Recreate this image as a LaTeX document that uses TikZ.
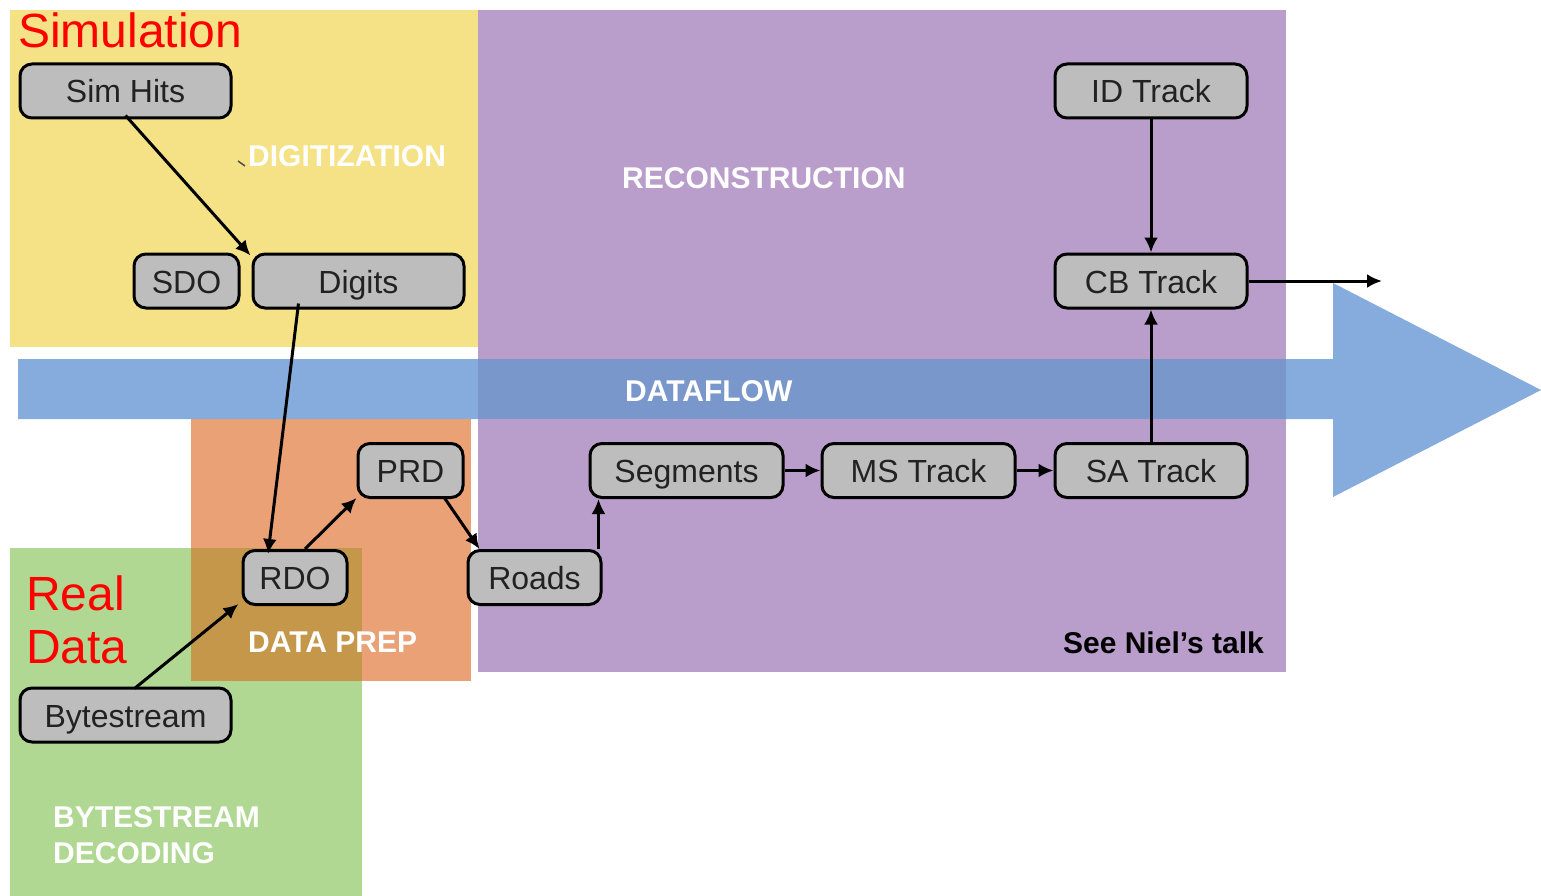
\documentclass[tikz,border=0pt]{standalone}
\usepackage{fontspec}
\setmainfont{Liberation Sans}
\usetikzlibrary{arrows.meta,calc}

\definecolor{simyellow}{HTML}{F5E286}
\definecolor{recopurple}{HTML}{B99DCB}
\definecolor{flowblue}{HTML}{86ABDD}
\definecolor{flowonpurple}{HTML}{7A97CB}
\definecolor{prepblue}{HTML}{EBA176}
\definecolor{bsgreen}{HTML}{B0D893}
\definecolor{prepongreen}{HTML}{C5974B}
\definecolor{boxgray}{HTML}{BDBDBD}
\definecolor{boxtext}{HTML}{222222}

\tikzset{
  stagebox/.style={draw=black, line width=3pt, fill=boxgray, rounded corners=12pt,
    minimum height=54pt, inner sep=0pt, text=boxtext,
    text height=30pt, text depth=6pt,
    font=\fontsize{32}{36}\selectfont},
  flow/.style={draw=black, line width=3pt, -{Latex[length=15pt,width=14pt]}},
  stagelabel/.style={text=white, font=\bfseries\fontsize{30}{36}\selectfont, inner sep=0pt},
  chainlabel/.style={text=red, font=\fontsize{48}{54}\selectfont, inner sep=0pt}
}

\begin{document}
\begin{tikzpicture}[x=1pt,y=-1pt]
\useasboundingbox (0,0) rectangle (1541,896);

% coloured stage areas
\fill[simyellow] (10,10) rectangle (478,347);
\fill[recopurple] (478,10) rectangle (1286,672);
\fill[bsgreen] (10,548) rectangle (362,896);
\fill[prepblue] (191,419) rectangle (471,681);
\fill[prepongreen] (191,548) rectangle (362,681);

% dataflow arrow
\fill[flowblue] (18,359) -- (1333,359) -- (1333,283) -- (1541,390)
  -- (1333,497) -- (1333,419) -- (18,419) -- cycle;
\fill[flowonpurple] (478,359) rectangle (1286,419);

% area labels
\node[chainlabel, anchor=base west] (simlbl) at (18,48) {Simulation};
\node[chainlabel, anchor=base west] (reallbl) at (26,610) {Real};
\node[chainlabel, anchor=base west] (datalbl) at (26,663) {Data};
\node[stagelabel, anchor=base west] (digilbl) at (248,167) {DIGITIZATION};
\node[stagelabel, anchor=base west] (recolbl) at (622,189) {RECONSTRUCTION};
\node[stagelabel, anchor=base west] (flowlbl) at (625,401) {DATAFLOW};
\node[stagelabel, anchor=base west] (preplbl) at (248,652) {DATA PREP};
\node[stagelabel, anchor=base west] (bslbl1) at (53,827) {BYTESTREAM};
\node[stagelabel, anchor=base west] (bslbl2) at (53,863) {DECODING};
\node[stagelabel, text=black, anchor=base east] (talklbl) at (1264,653) {See Niel’s talk};
\draw[line width=1.5pt, black!70] (238,161) -- (245,166);

% data objects
\node[stagebox, minimum width=211pt] (simhits) at (125.5,91) {Sim Hits};
\node[stagebox, minimum width=105pt] (sdo) at (186.5,281) {SDO};
\node[stagebox, minimum width=211pt] (digits) at (358.5,281) {Digits};
\node[stagebox, minimum width=192pt] (idtrack) at (1151,91) {ID Track};
\node[stagebox, minimum width=192pt] (cbtrack) at (1151,281) {CB Track};
\node[stagebox, minimum width=105pt] (prd) at (410.5,470.5) {PRD};
\node[stagebox, minimum width=193pt] (segments) at (686.5,470.5) {Segments};
\node[stagebox, minimum width=193pt] (mstrack) at (918.5,470.5) {MS Track};
\node[stagebox, minimum width=192pt] (satrack) at (1151,470.5) {SA Track};
\node[stagebox, minimum width=104pt] (rdo) at (295,577.5) {RDO};
\node[stagebox, minimum width=133pt] (roads) at (534.5,577.5) {Roads};
\node[stagebox, minimum width=211pt] (bytestream) at (125.5,715) {Bytestream};
\coordinate (out) at (1382,281);

% data flow between objects
\draw[flow] ([yshift=4pt]simhits.south) -- ([xshift=-1pt,yshift=-3pt]digits.north west);
\draw[flow] ([xshift=-60pt,yshift=6pt]digits.south) -- ([xshift=-27pt,yshift=-5pt]rdo.north);
\draw[flow] ([xshift=9pt,yshift=-2pt]bytestream.north) -- ([xshift=-3pt,yshift=2pt]rdo.south west);
\draw[flow] ([xshift=10pt]rdo.north) -- ([yshift=1pt]prd.south west);
\draw[flow] ([xshift=34pt,yshift=1pt]prd.south) -- ([xshift=13pt]roads.north west);
\draw[flow] ([xshift=-4pt]roads.north east) -- ([xshift=-4pt]roads.north east |- segments.south);
\draw[flow] (segments.east) -- (mstrack.west);
\draw[flow] (mstrack.east) -- (satrack.west);
\draw[flow] (satrack.north) -- (cbtrack.south);
\draw[flow] (idtrack.south) -- (cbtrack.north);
\draw[flow] (cbtrack.east) -- (out);
\end{tikzpicture}
\end{document}
